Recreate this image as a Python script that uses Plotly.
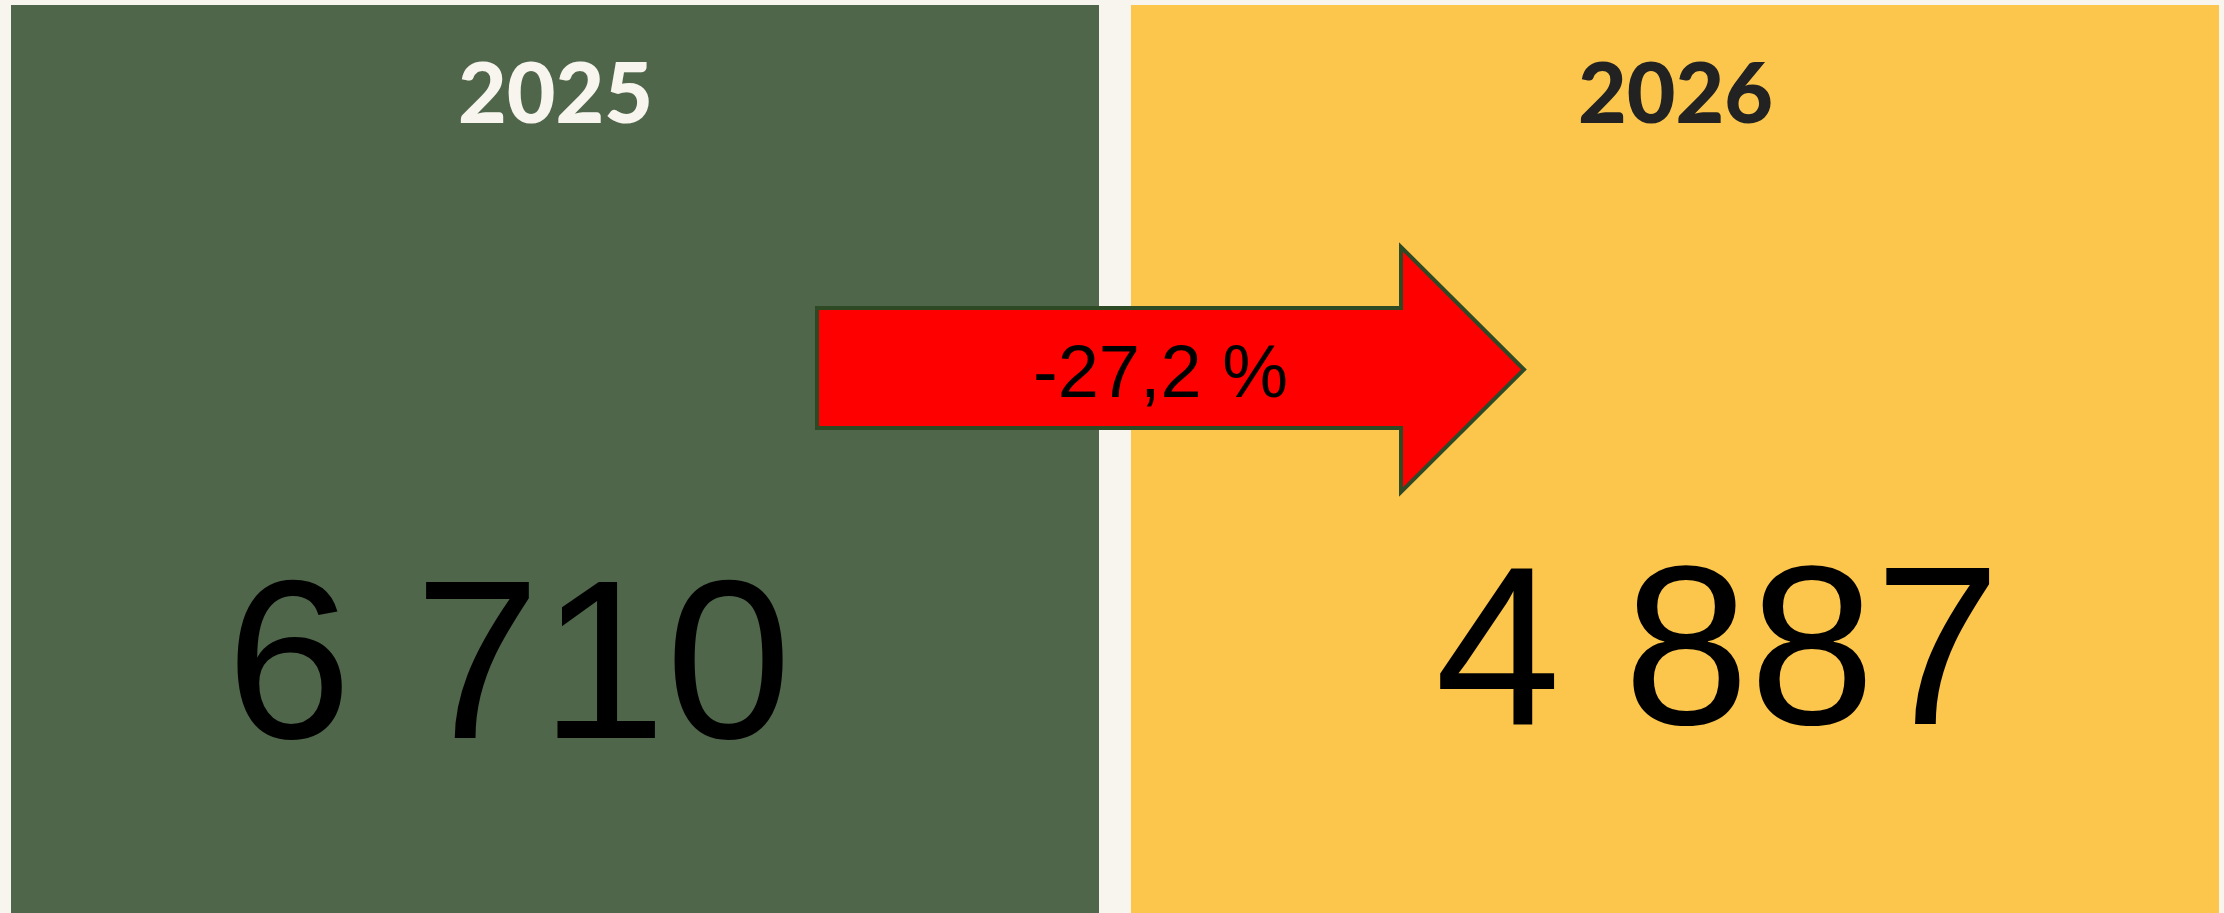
import plotly.graph_objects as go

# ---- data ----
years = ["2025", "2026"]
values = [6710, 4887]
panel_colors = ["#4F664A", "#FCC64C"]
title_colors = ["#F8F5EF", "#222222"]

change_pct = (values[1] - values[0]) / values[0] * 100


def fmt_int(v):
    return f"{v:,}".replace(",", " ")


def fmt_pct(p):
    return f"{p:.1f}".replace(".", ",") + " %"


W, H = 2224, 913
BG = "#F8F5EF"

fig = go.Figure()
fig.add_trace(go.Bar(
    x=[0, 1],
    y=[1, 1],
    width=[1088 / 1120] * 2,
    marker=dict(color=panel_colors, line=dict(width=0)),
    hoverinfo="skip",
    showlegend=False,
))


def px_x(p):
    return p / W


def px_y(p):
    return 1 - p / H


# arrow (paper coords from pixel layout)
pts = [(817, 308), (1401, 308), (1401, 247), (1524, 369.5), (1401, 492), (1401, 428), (817, 428)]
path = "M " + " L ".join(f"{px_x(a):.5f},{px_y(b):.5f}" for a, b in pts) + " Z"
fig.add_shape(type="path", path=path, xref="paper", yref="paper",
              fillcolor="#FF0000", line=dict(color="#2E4A25", width=4), layer="above")

annotations = []
for i, yr in enumerate(years):
    annotations.append(dict(
        x=i, xref="x", y=px_y(91), yref="paper",
        text=yr, showarrow=False,
        font=dict(family="Lato", size=84, color=title_colors[i], weight=900),
        xanchor="center", yanchor="middle",
    ))

num_centers = [(509, 659), (1718, 645)]
for i, v in enumerate(values):
    cx, cy = num_centers[i]
    annotations.append(dict(
        x=px_x(cx), xref="paper", y=px_y(cy), yref="paper",
        text=fmt_int(v), showarrow=False,
        font=dict(family="Liberation Sans, Arial", size=226, color="#000000"),
        xanchor="center", yanchor="middle",
    ))

annotations.append(dict(
    x=px_x(1160), xref="paper", y=px_y(371), yref="paper",
    text=fmt_pct(change_pct), showarrow=False,
    font=dict(family="Liberation Sans, Arial", size=74, color="#000000"),
    xanchor="center", yanchor="middle",
))

fig.update_layout(
    width=W, height=H,
    margin=dict(l=0, r=0, t=0, b=0),
    paper_bgcolor=BG, plot_bgcolor=BG,
    xaxis=dict(range=[-555 / 1120, (W - 555) / 1120], visible=False, fixedrange=True),
    yaxis=dict(range=[0, H / 908], visible=False, fixedrange=True),
    annotations=annotations,
    bargap=0,
    showlegend=False,
)

fig.write_html(
    "out.html",
    config={"displayModeBar": False},
    post_script="document.body.style.margin='0';document.body.style.background='%s';document.body.style.overflow='hidden';" % BG,
)
